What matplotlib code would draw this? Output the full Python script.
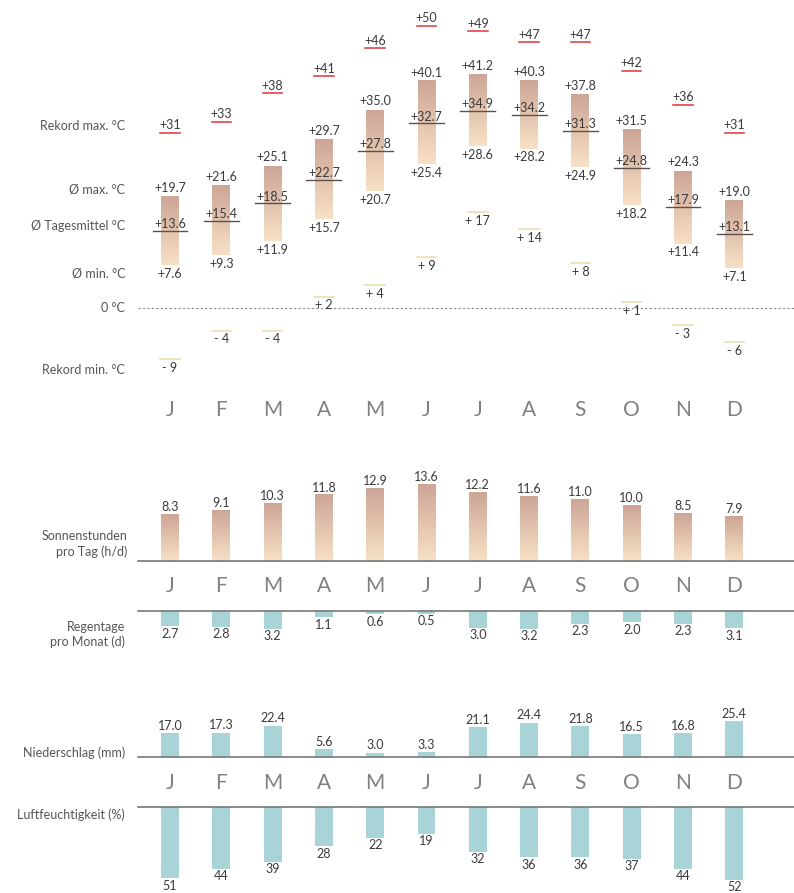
import numpy as np
import matplotlib
matplotlib.use("Agg")
import matplotlib.pyplot as plt
from matplotlib.colors import LinearSegmentedColormap

plt.rcParams['font.family'] = ['Lato', 'DejaVu Sans']

# data
months = ["J", "F", "M", "A", "M", "J", "J", "A", "S", "O", "N", "D"]
rec_max = [31, 33, 38, 41, 46, 50, 49, 47, 47, 42, 36, 31]
avg_max = [19.7, 21.6, 25.1, 29.7, 35.0, 40.1, 41.2, 40.3, 37.8, 31.5, 24.3, 19.0]
avg_mean = [13.6, 15.4, 18.5, 22.7, 27.8, 32.7, 34.9, 34.2, 31.3, 24.8, 17.9, 13.1]
avg_min = [7.6, 9.3, 11.9, 15.7, 20.7, 25.4, 28.6, 28.2, 24.9, 18.2, 11.4, 7.1]
rec_min = [-9, -4, -4, 2, 4, 9, 17, 14, 8, 1, -3, -6]
sun_hours = [8.3, 9.1, 10.3, 11.8, 12.9, 13.6, 12.2, 11.6, 11.0, 10.0, 8.5, 7.9]
rain_days = [2.7, 2.8, 3.2, 1.1, 0.6, 0.5, 3.0, 3.2, 2.3, 2.0, 2.3, 3.1]
precip = [17.0, 17.3, 22.4, 5.6, 3.0, 3.3, 21.1, 24.4, 21.8, 16.5, 16.8, 25.4]
humidity = [51, 44, 39, 28, 22, 19, 32, 36, 36, 37, 44, 52]

W, H = 794, 893
fig = plt.figure(figsize=(W / 100, H / 100), dpi=100)
fig.patch.set_facecolor("white")

x = np.arange(12)
X0, DX = 170, 51.3
xlim = (-X0 / DX, (W - X0) / DX)
xline0 = (138 - X0) / DX
bw = 0.35
tan = LinearSegmentedColormap.from_list("tan", ["#f7e1c6", "#cda596"])
blue = "#a9d4d7"
txt = "#3a3a3a"
lab = "#555555"
mcol = "#808080"
grad = np.linspace(0, 1, 256).reshape(-1, 1)


def band(top, bottom):
    ax = fig.add_axes([0, 1 - bottom / H, 1, (bottom - top) / H])
    ax.set_axis_off()
    return ax


def grad_bar(ax, xc, lo, hi):
    ax.imshow(grad, extent=[xc - bw / 2, xc + bw / 2, lo, hi], origin="lower",
              cmap=tan, aspect="auto", interpolation="bilinear")


def month_row(ax, y):
    for i, m in enumerate(months):
        ax.text(i, y, m, ha="center", va="center", fontsize=15,
                fontweight="normal", color=mcol, clip_on=False)


# ---- temperatures ----
k = 5.65
ax = band(0, 430)
for i in x:
    grad_bar(ax, i, avg_min[i], avg_max[i])
    ax.plot([i - 0.34, i + 0.34], [avg_mean[i]] * 2, color="#5e4f4b", lw=1)
    ax.annotate(f"+{avg_max[i]:.1f}", (i, avg_max[i]), xytext=(0, 2),
                textcoords="offset points", ha="center", va="bottom",
                fontsize=9, color=txt)
    ax.annotate(f"+{avg_mean[i]:.1f}", (i, avg_mean[i]), xytext=(0, 0.5),
                textcoords="offset points", ha="center", va="bottom",
                fontsize=9, color=txt)
    ax.annotate(f"+{avg_min[i]:.1f}", (i, avg_min[i]), xytext=(0, -2),
                textcoords="offset points", ha="center", va="top",
                fontsize=9, color=txt)
    ax.plot([i - 0.19, i + 0.19], [rec_max[i]] * 2, color="#e0313c", lw=1.1)
    ax.annotate(f"+{rec_max[i]}", (i, rec_max[i]), xytext=(0, 1),
                textcoords="offset points", ha="center", va="bottom",
                fontsize=9, color=txt)
    ax.plot([i - 0.19, i + 0.19], [rec_min[i]] * 2, color="#e9dba9", lw=1.1)
    s = "+" if rec_min[i] > 0 else "-"
    ax.annotate(f"{s} {abs(rec_min[i])}", (i, rec_min[i]), xytext=(0, -2),
                textcoords="offset points", ha="center", va="top",
                fontsize=9, color=txt)
ax.plot([xline0, xlim[1]], [0, 0], color="#888888", lw=0.8, ls=(0, (2, 2)))
lx = (125 - X0) / DX
for ypx, s in [(126, "Rekord max. °C"), (190, "Ø max. °C"),
               (226, "Ø Tagesmittel °C"), (274, "Ø min. °C"),
               (308, "0 °C"), (370, "Rekord min. °C")]:
    ax.text(lx, (308 - ypx) / k, s, ha="right", va="center", fontsize=9, color=lab)
month_row(ax, (308 - 410) / k)
ax.set_xlim(xlim)
ax.set_ylim((308 - 430) / k, 308 / k)

# ---- sunshine ----
ax = band(440, 561)
for i in x:
    grad_bar(ax, i, 0, sun_hours[i])
    ax.annotate(f"{sun_hours[i]:.1f}", (i, sun_hours[i]), xytext=(0, 1),
                textcoords="offset points", ha="center", va="bottom",
                fontsize=9, color=txt)
ax.plot([xline0, xlim[1]], [0, 0], color="#777777", lw=1.2, clip_on=False)
ax.text(lx + 0.05, 0.6, "Sonnenstunden\npro Tag (h/d)", ha="right", va="bottom",
        fontsize=9, color=lab, linespacing=1.3)
month_row(ax, -25 / 5.6)
ax.set_xlim(xlim)
ax.set_ylim(0, 121 / 5.6)

# ---- rain days ----
ax = band(611, 660)
ax.bar(x, [-v for v in rain_days], width=bw, color=blue)
for i in x:
    ax.annotate(f"{rain_days[i]:.1f}", (i, -rain_days[i]), xytext=(0, -1),
                textcoords="offset points", ha="center", va="top",
                fontsize=9, color=txt)
ax.plot([xline0, xlim[1]], [0, 0], color="#777777", lw=1.2, clip_on=False)
ax.text(lx, -4.2, "Regentage\npro Monat (d)", ha="right", va="center",
        fontsize=9, color=lab, linespacing=1.3)
ax.set_xlim(xlim)
ax.set_ylim(-49 / 5.6, 0)

# ---- precipitation ----
ax = band(690, 757)
ax.bar(x, precip, width=bw, color=blue)
for i in x:
    ax.annotate(f"{precip[i]:.1f}", (i, precip[i]), xytext=(0, 1),
                textcoords="offset points", ha="center", va="bottom",
                fontsize=9, color=txt)
ax.plot([xline0, xlim[1]], [0, 0], color="#777777", lw=1.2, clip_on=False)
ax.text(lx, 4 / 1.4, "Niederschlag (mm)", ha="right", va="center",
        fontsize=9, color=lab)
month_row(ax, -26 / 1.4)
ax.set_xlim(xlim)
ax.set_ylim(0, 67 / 1.4)

# ---- humidity ----
ax = band(807, 893)
ax.bar(x, [-v for v in humidity], width=bw, color=blue)
for i in x:
    ax.annotate(f"{humidity[i]}", (i, -humidity[i]), xytext=(0, -1),
                textcoords="offset points", ha="center", va="top",
                fontsize=9, color=txt, annotation_clip=False)
ax.plot([xline0, xlim[1]], [0, 0], color="#777777", lw=1.2, clip_on=False)
ax.text(lx, -8 / 1.4, "Luftfeuchtigkeit (%)", ha="right", va="center",
        fontsize=9, color=lab)
ax.set_xlim(xlim)
ax.set_ylim(-86 / 1.4, 0)

fig.savefig("out.png", dpi=100, facecolor="white")
